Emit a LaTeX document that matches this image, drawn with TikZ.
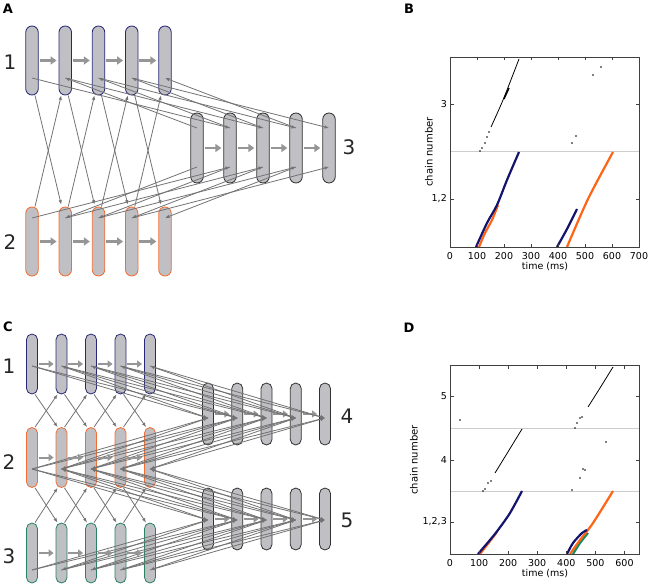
\documentclass[tikz,border=0pt]{standalone}
\usepackage{fontspec}
\setmainfont{DejaVu Sans}
\usetikzlibrary{arrows.meta}
\definecolor{pillfill}{RGB}{192,192,196}
\definecolor{chainone}{RGB}{40,40,120}
\definecolor{chaintwo}{RGB}{240,110,50}
\definecolor{chainthree}{RGB}{50,50,50}
\definecolor{chaingreen}{RGB}{40,130,100}
\definecolor{conn}{RGB}{115,115,115}
\definecolor{ffarrow}{RGB}{150,150,150}
\definecolor{spikeblue}{RGB}{20,20,110}
\definecolor{spikeorange}{RGB}{255,100,20}
\definecolor{spikegreen}{RGB}{20,140,100}
\definecolor{sepline}{RGB}{205,205,205}

\begin{document}
\begin{tikzpicture}[x=1pt, y=-1pt,
  pill/.style={rectangle, rounded corners=6.25pt, fill=pillfill, line width=0.8pt,
    minimum width=12.5pt, minimum height=69pt, inner sep=0pt},
  smallpill/.style={pill, rounded corners=5.5pt, minimum width=11pt, minimum height=60pt},
  ff/.style={ffarrow, line width=2.5pt, -{Triangle[length=6pt,width=8pt]},
    shorten <=1pt, shorten >=2pt},
  ffsmall/.style={ff, line width=2pt, -{Triangle[length=5pt,width=7pt]}},
  link/.style={conn, line width=0.8pt, -{Latex[length=4.5pt,width=3.5pt]}},
  chainlabel/.style={font=\fontsize{20}{24}\selectfont, text=black!85},
  panel/.style={font=\fontsize{13}{15}\selectfont\bfseries},
  tick/.style={font=\fontsize{9.5}{11}\selectfont, inner sep=1pt},
  frame/.style={black!75, line width=0.7pt}]
\useasboundingbox (0,0) rectangle (652,585);

% ---- A: two chains and a third one
\node[panel] (labA) at (8,9) {A};
\foreach \i/\x in {1/32,2/65.25,3/98.5,4/131.75,5/165} {
  \node[pill, draw=chainone] (a1-\i) at (\x,60.5) {};
  \node[pill, draw=chaintwo] (a2-\i) at (\x,241.5) {};
  \coordinate (p1-\i) at ([yshift=-17.5pt]a1-\i.center);
  \coordinate (p2-\i) at ([yshift=23.5pt]a2-\i.center);
}
\foreach \i/\x in {1/197,2/230,3/263,4/296,5/329} {
  \node[pill, draw=chainthree, minimum height=70pt] (a3-\i) at (\x,148) {};
  \coordinate (p3u-\i) at ([yshift=20pt]a3-\i.center);
  \coordinate (p3d-\i) at ([yshift=-19pt]a3-\i.center);
}
\node[chainlabel] (la1) at (10,62) {1};
\node[chainlabel] (la2) at (10,242) {2};
\node[chainlabel] (la3) at (349,147) {3};

\foreach \i/\j in {1/2,2/3,3/4,4/5} {
  \draw[ff] (a1-\i) -- (a1-\j);
  \draw[ff] (a2-\i) -- (a2-\j);
  \draw[ff] (a3-\i) -- (a3-\j);
  \draw[link] ([xshift=3pt]a1-\i.south) -- ([xshift=-4pt,yshift=2pt]a2-\j.north);
  \draw[link] ([xshift=3pt]a2-\i.north) -- ([xshift=-4pt]a1-\j.south);
  \draw[link] (p1-\i) -- (p3u-\j);
  \draw[link] (p3u-\i) -- (p1-\j);
  \draw[link] (p2-\i) -- (p3d-\j);
  \draw[link] (p3d-\i) -- (p2-\j);
}

% ---- C: three chains and two more
\node[panel] (labC) at (8,327) {C};
\foreach \i/\x in {1/32,2/61.5,3/91,4/120.5,5/150} {
  \node[smallpill, draw=chainone] (c1-\i) at (\x,364) {};
  \node[smallpill, draw=chaintwo] (c2-\i) at (\x,457.5) {};
  \node[smallpill, draw=chaingreen] (c3-\i) at (\x,553) {};
  \coordinate (q1-\i) at ([yshift=-2pt]c1-\i.center);
  \coordinate (q2-\i) at ([yshift=-11.5pt]c2-\i.center);
  \coordinate (q3-\i) at ([yshift=-17pt]c3-\i.center);
}
\foreach \i/\x in {1/208,2/237.25,3/266.5,4/295.75,5/325} {
  \node[smallpill, draw=chainthree, minimum height=62pt] (c4-\i) at (\x,414) {};
  \node[smallpill, draw=chainthree, minimum height=62pt] (c5-\i) at (\x,519) {};
  \coordinate (q4-\i) at ([yshift=-4pt]c4-\i.center);
  \coordinate (q5-\i) at ([yshift=-1pt]c5-\i.center);
}
\node[chainlabel] (lc1) at (9,366) {1};
\node[chainlabel] (lc2) at (9,462) {2};
\node[chainlabel] (lc3) at (9,556) {3};
\node[chainlabel] (lc4) at (347,416) {4};
\node[chainlabel] (lc5) at (347,520) {5};

\foreach \i in {1,...,5} {
  \draw[link] (q1-\i) -- (q4-\i);
  \draw[link] (q2-\i) -- (q4-\i);
  \draw[link] (q2-\i) -- (q5-\i);
  \draw[link] (q3-\i) -- (q5-\i);
}
\foreach \i/\j in {1/2,2/3,3/4,4/5} {
  \draw[ffsmall] (c1-\i) -- (c1-\j);
  \draw[ffsmall] (c2-\i) -- (c2-\j);
  \draw[ffsmall] (c3-\i) -- (c3-\j);
  \draw[ffsmall] (c4-\i) -- (c4-\j);
  \draw[ffsmall] (c5-\i) -- (c5-\j);
  \draw[link] ([xshift=3pt]c1-\i.south) -- ([xshift=-4pt]c2-\j.north);
  \draw[link] ([xshift=3pt]c2-\i.north) -- ([xshift=-4pt]c1-\j.south);
  \draw[link] ([xshift=3pt]c2-\i.south) -- ([xshift=-4pt]c3-\j.north);
  \draw[link] ([xshift=3pt]c3-\i.north) -- ([xshift=-4pt]c2-\j.south);
  \draw[link] (q1-\i) -- (q4-\j);
  \draw[link] (q4-\i) -- (q1-\j);
  \draw[link] (q2-\i) -- (q4-\j);
  \draw[link] (q4-\i) -- (q2-\j);
  \draw[link] (q2-\i) -- (q5-\j);
  \draw[link] (q5-\i) -- (q2-\j);
  \draw[link] (q3-\i) -- (q5-\j);
  \draw[link] (q5-\i) -- (q3-\j);
}

% ---- B: raster
\node[panel] (labB) at (409,9) {B};
\draw[sepline, line width=1pt] (450,152) -- (639,152);
\draw[spikeorange, line width=2.2pt] plot[smooth] coordinates {(479,247) (485,233) (492,220) (498,205)};
\draw[spikeblue, line width=2.2pt] plot[smooth] coordinates {(476,247) (487,223) (497,205) (507,180) (519,152)};
\draw[spikeorange, line width=2.2pt] plot[smooth] coordinates {(567,247) (588,199) (613,152)};
\draw[spikeblue, line width=2.2pt] plot[smooth] coordinates {(557,247) (567,229) (577,209)};
\draw[black, line width=0.8pt] plot[smooth] coordinates {(491,127) (503,100) (519,59)};
\draw[black, line width=1.4pt] (504,99) -- (509,88);
\foreach \x/\y in {480/151,482/148,485/143,487/137,489/132,572/143,576/136,593/75,601/67}
  \fill (\x,\y) circle[radius=0.8pt];
\draw[frame] (450,57) rectangle (639,247);
\foreach \x/\t in {450/0,477/100,504/200,531/300,558/400,585/500,612/600,639/700} {
  \draw[frame] (\x,247) -- (\x,243.5) (\x,57) -- (\x,60.5);
  \node[tick] (tb\t) at (\x,256) {\t};
}
\foreach \y/\t in {104/3,199/{1,2}} {
  \draw[frame] (450,\y) -- (453.5,\y) (639,\y) -- (635.5,\y);
  \node[tick, anchor=east] at (448,\y) {\t};
}
\node[tick] (xlabB) at (545,267) {time (ms)};
\node[tick, rotate=90, font=\fontsize{10}{12}\selectfont] (ylabB) at (429,152) {chain number};

% ---- D: raster
\node[panel] (labD) at (409,328) {D};
\draw[sepline, line width=1pt] (450,428) -- (639,428) (450,491) -- (639,491);
\draw[spikeorange, line width=2.2pt] plot[smooth] coordinates {(480,554) (487,545) (497,532)};
\draw[spikeblue, line width=2.2pt] plot[smooth] coordinates {(478,554) (490,540) (498,530) (510,513) (522,491)};
\draw[spikegreen, line width=2.2pt] plot[smooth] coordinates {(573,554) (580,543) (588,533)};
\draw[spikeorange, line width=2.2pt] plot[smooth] coordinates {(570,554) (580,540) (593,523) (613,491)};
\draw[spikeblue, line width=2.2pt] plot[smooth] coordinates {(567,554) (573,543) (582,533) (587,530)};
\draw[black, line width=0.8pt] (495,473) -- (503,460) -- (522,429);
\draw[black, line width=0.8pt] (588,407) -- (600,388) -- (613,367);
\foreach \x/\y in {483/491,485/489,488/483,491/481,575/428,577/423,580/418,582/417,460/420,606/442,572/490,580/478,585/470,583/469}
  \fill (\x,\y) circle[radius=0.8pt];
\draw[frame] (450,365) rectangle (639,554);
\foreach \x/\t in {450/0,479.1/100,508.2/200,537.2/300,566.3/400,595.4/500,624.5/600} {
  \draw[frame] (\x,554) -- (\x,550.5) (\x,365) -- (\x,368.5);
  \node[tick] (td\t) at (\x,563) {\t};
}
\foreach \y/\t in {396/5,460/4,522/{1,2,3}} {
  \draw[frame] (450,\y) -- (453.5,\y) (639,\y) -- (635.5,\y);
  \node[tick, anchor=east] at (448,\y) {\t};
}
\node[tick] (xlabD) at (545,574) {time (ms)};
\node[tick, rotate=90, font=\fontsize{10}{12}\selectfont] (ylabD) at (414,460) {chain number};
\end{tikzpicture}
\end{document}
